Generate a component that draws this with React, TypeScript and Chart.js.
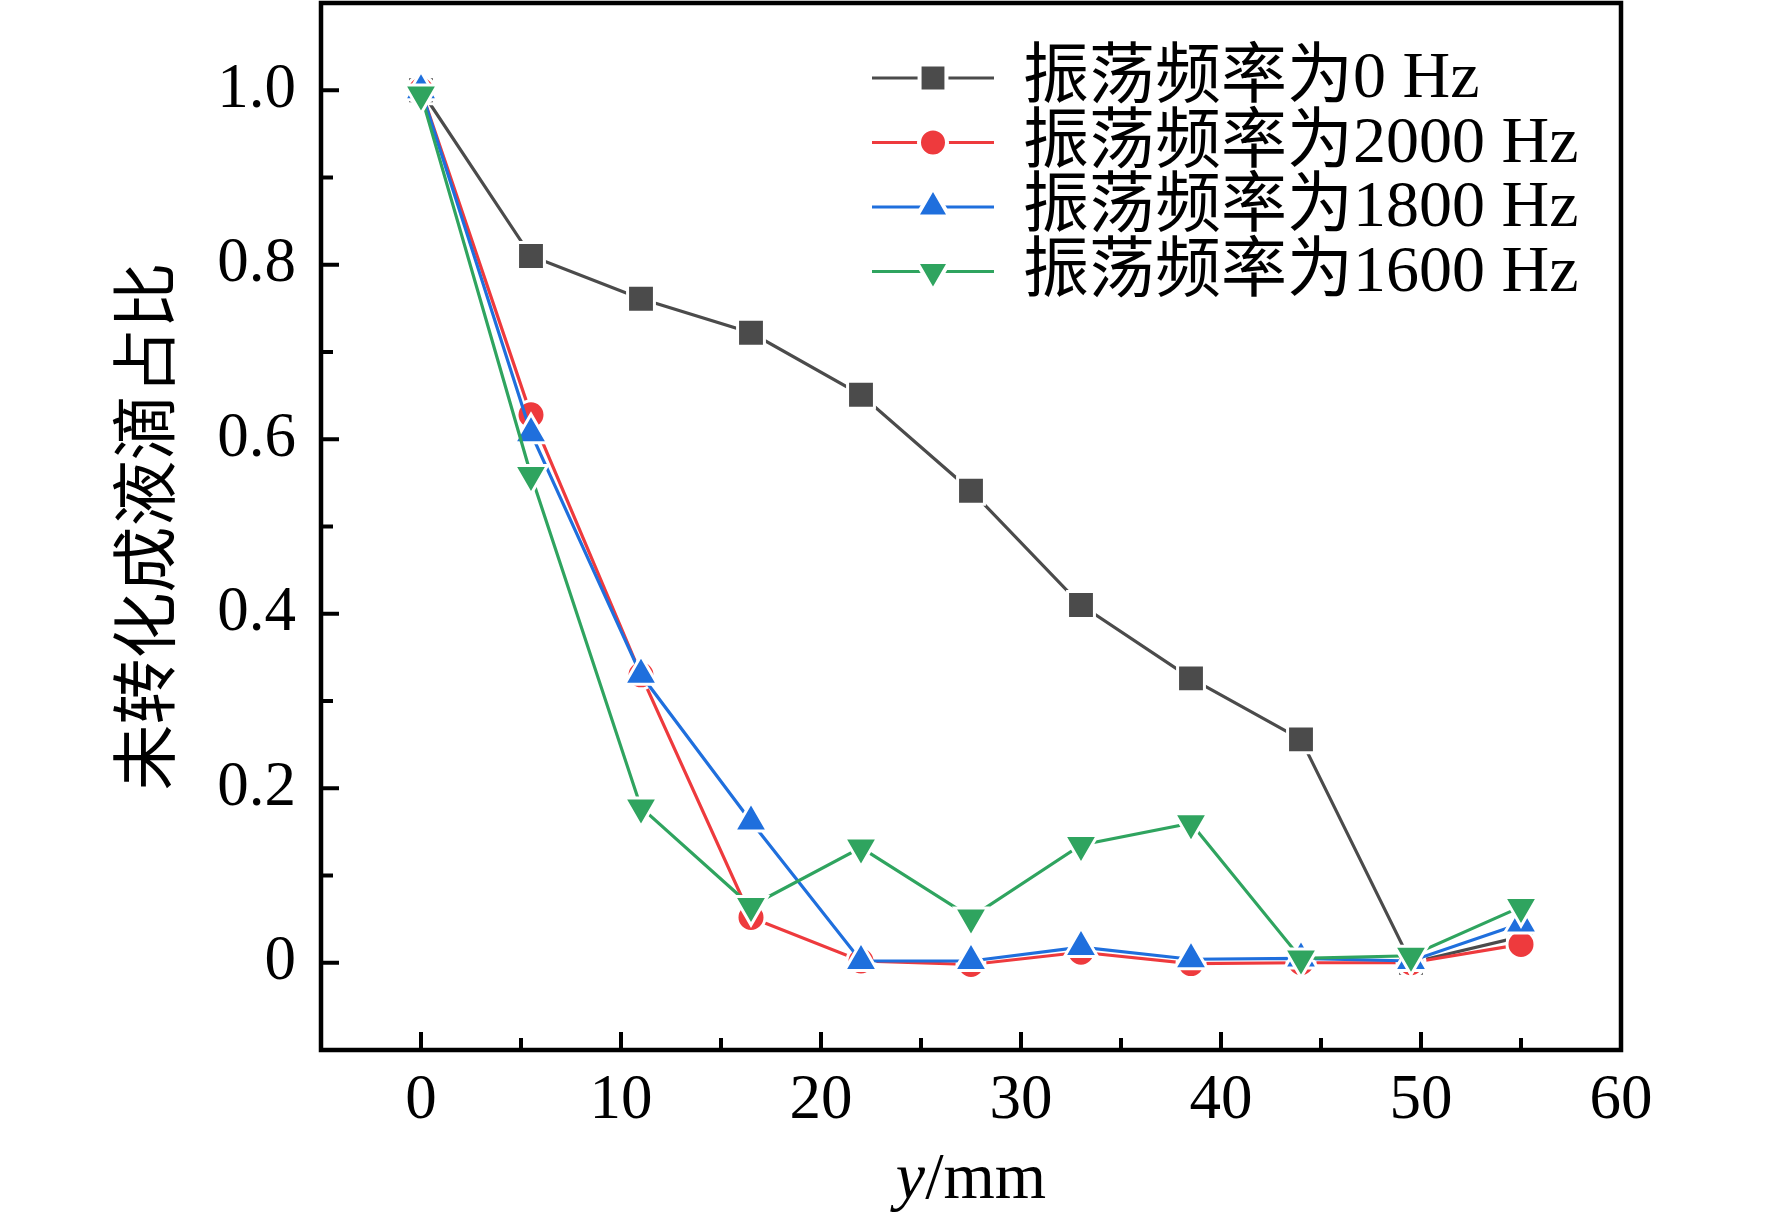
import React, { useEffect, useRef } from 'react';
import { Chart, registerables } from 'chart.js';
import { drawPoint } from 'chart.js/helpers';

Chart.register(...registerables);

// distance y (mm) and share of undropped liquid for each frequency
const positions = [0, 5.5, 11, 16.5, 22, 27.5, 33, 38.5, 44, 49.5, 55];
const freq0 = [1.0, 0.81, 0.761, 0.722, 0.651, 0.541, 0.41, 0.326, 0.256, 0.0, 0.03];
const freq2000 = [1.0, 0.628, 0.33, 0.052, 0.002, -0.002, 0.012, -0.001, 0.0, 0.0, 0.021];
const freq1800 = [1.0, 0.607, 0.33, 0.162, 0.002, 0.002, 0.018, 0.004, 0.005, 0.002, 0.045];
const freq1600 = [0.995, 0.559, 0.178, 0.065, 0.132, 0.052, 0.135, 0.16, 0.005, 0.008, 0.064];

const seriesLabels = ['振荡频率为0 Hz', '振荡频率为2000 Hz', '振荡频率为1800 Hz', '振荡频率为1600 Hz'];
const seriesColors = ['#4b4b4b', '#ee3a3d', '#1f6fdd', '#2fa45f'];
const xTickValues = [0, 10, 20, 30, 40, 50, 60];
const yTickValues = [0, 0.2, 0.4, 0.6, 0.8, 1.0];

const SERIF = '"Liberation Serif", "Times New Roman", "Noto Sans CJK SC", serif';

const pts = (ys: number[]) => ys.map((y, i) => ({ x: positions[i], y }));

// inward ticks + frame + x title
const framePlugin = {
  id: 'frame',
  afterDraw(chart: any) {
    const { ctx, chartArea: a, scales } = chart;
    const xs = scales.x, ys = scales.y;
    ctx.save();
    ctx.strokeStyle = '#000';
    ctx.lineWidth = 4;
    for (let v = -5; v <= 60; v += 5) {
      const px = xs.getPixelForValue(v);
      const len = v % 10 === 0 ? 18 : 12;
      ctx.beginPath();
      ctx.moveTo(px, a.bottom);
      ctx.lineTo(px, a.bottom - len);
      ctx.stroke();
    }
    for (let k = -1; k <= 11; k++) {
      const py = ys.getPixelForValue(k / 10);
      const len = k % 2 === 0 ? 18 : 12;
      ctx.beginPath();
      ctx.moveTo(a.left, py);
      ctx.lineTo(a.left + len, py);
      ctx.stroke();
    }
    ctx.lineWidth = 4.5;
    ctx.strokeRect(a.left, a.top, a.right - a.left, a.bottom - a.top);

    ctx.fillStyle = '#000';
    ctx.textBaseline = 'middle';
    const cx = (a.left + a.right) / 2;
    const ty = 1181;
    ctx.font = 'italic 66px ' + SERIF;
    const w1 = ctx.measureText('y').width;
    ctx.font = '66px ' + SERIF;
    const w2 = ctx.measureText('/mm').width;
    const sx = cx - (w1 + w2) / 2;
    ctx.textAlign = 'left';
    ctx.font = 'italic 66px ' + SERIF;
    ctx.fillText('y', sx, ty);
    ctx.font = '66px ' + SERIF;
    ctx.fillText('/mm', sx + w1, ty);
    ctx.restore();
  },
};

// line-with-marker legend
const legendPlugin = {
  id: 'lineLegend',
  afterDraw(chart: any) {
    const { ctx } = chart;
    ctx.save();
    chart.data.datasets.forEach((ds: any, i: number) => {
      const y = 78 + i * 64.5;
      ctx.strokeStyle = ds.borderColor;
      ctx.lineWidth = ds.borderWidth;
      ctx.beginPath();
      ctx.moveTo(872, y);
      ctx.lineTo(994, y);
      ctx.stroke();
      ctx.fillStyle = ds.pointBackgroundColor;
      ctx.strokeStyle = '#fff';
      ctx.lineWidth = 4;
      drawPoint(ctx, { pointStyle: ds.pointStyle, radius: ds.pointRadius, rotation: ds.pointRotation || 0, borderWidth: 4 } as any, 933, y);
      ctx.fillStyle = '#000';
      ctx.font = '66px ' + SERIF;
      ctx.textAlign = 'left';
      ctx.textBaseline = 'middle';
      ctx.fillText(ds.label, 1023, y + 2);
    });
    ctx.restore();
  },
};

export default function App() {
  const ref = useRef<HTMLCanvasElement | null>(null);
  useEffect(() => {
    if (!ref.current) return;
    const ctx = ref.current.getContext('2d');
    if (!ctx) return;
    const mk = (i: number, ys: number[], style: string, radius: number, rotation = 0, order = 0) => ({
      label: seriesLabels[i],
      data: pts(ys),
      borderColor: seriesColors[i],
      backgroundColor: seriesColors[i],
      pointBackgroundColor: seriesColors[i],
      pointBorderColor: '#fff',
      pointBorderWidth: 3,
      borderWidth: 3.2,
      pointStyle: style,
      pointRadius: radius,
      pointRotation: rotation,
      order,
    });
    const chart = new Chart(ctx, {
      type: 'line',
      data: {
        datasets: [
          mk(0, freq0, 'rect', 19, 0, 4),
          mk(1, freq2000, 'circle', 14, 0, 3),
          mk(2, freq1800, 'triangle', 19, 0, 2),
          mk(3, freq1600, 'triangle', 19, 180, 1),
        ],
      },
      options: {
        animation: false,
        responsive: true,
        maintainAspectRatio: false,
        devicePixelRatio: 1,
        layout: { autoPadding: false, padding: { top: 3, right: 151, left: 0, bottom: 0 } },
        plugins: { legend: { display: false }, tooltip: { enabled: false } },
        scales: {
          x: {
            type: 'linear',
            min: -5,
            max: 60,
            grid: { display: false, drawTicks: false },
            border: { display: false },
            afterBuildTicks: (s: any) => { s.ticks = xTickValues.map((v) => ({ value: v })); },
            afterFit: (s: any) => { s.height = 173; s.paddingLeft = 0; s.paddingRight = 0; },
            ticks: { color: '#000', padding: 14, maxRotation: 0, font: { family: SERIF, size: 63 } },
          },
          y: {
            type: 'linear',
            min: -0.1,
            max: 1.1,
            grid: { display: false, drawTicks: false },
            border: { display: false },
            afterBuildTicks: (s: any) => { s.ticks = yTickValues.map((v) => ({ value: v })); },
            afterFit: (s: any) => { s.width = 321; s.paddingTop = 0; s.paddingBottom = 0; },
            ticks: {
              color: '#000',
              padding: 25,
              font: { family: SERIF, size: 63 },
              callback: (v: any) => (v === 0 ? '0' : Number(v).toFixed(1)),
            },
            title: {
              display: true,
              text: '未转化成液滴占比',
              color: '#000',
              font: { family: SERIF, size: 66 },
              padding: { top: 112, bottom: 0 },
            },
          },
        },
      },
      plugins: [framePlugin, legendPlugin],
    } as any);
    return () => chart.destroy();
  }, []);
  return (
    <div style={{ position: 'fixed', left: 0, top: 0, width: 1772, height: 1223, background: '#fff' }}>
      <canvas ref={ref} />
    </div>
  );
}
